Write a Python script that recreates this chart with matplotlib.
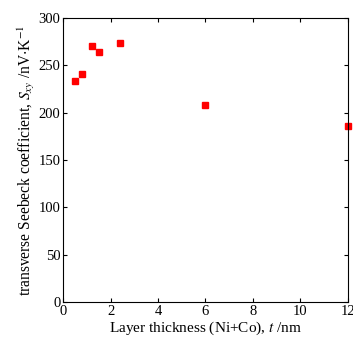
import matplotlib
matplotlib.use('Agg')
import matplotlib.pyplot as plt

# data
thickness = [0.5, 0.8, 1.2, 1.5, 2.4, 6.0, 12.0]
sxy = [233.5, 240.5, 270.5, 263.5, 273.5, 208.0, 186.0]

plt.rcParams['font.family'] = 'Liberation Serif'
plt.rcParams['mathtext.fontset'] = 'stix'
plt.rcParams['font.size'] = 10.5

fig = plt.figure(figsize=(3.53, 3.38), dpi=100)
ax = fig.add_axes([0.179, 0.106, 0.806, 0.841])
ax.plot(thickness, sxy, 's', color='red', markersize=4.5, clip_on=False)

ax.set_xlim(0, 12)
ax.set_ylim(0, 300)
ax.set_xticks(range(0, 13, 2))
ax.set_yticks(range(0, 301, 50))
ax.tick_params(direction='in', top=True, right=True, length=3, width=0.8, pad=2)
for s in ax.spines.values():
    s.set_linewidth(0.8)

ax.set_xlabel('Layer thickness (Ni+Co), $t$ /nm', fontsize=11, labelpad=1)
ax.set_ylabel('transverse Seebeck coefficient, $S_{xy}$ /nV$\\cdot$K$^{\\mathrm{-1}}$',
              fontsize=11.2, labelpad=1)

fig.savefig('out.png', dpi=100)
